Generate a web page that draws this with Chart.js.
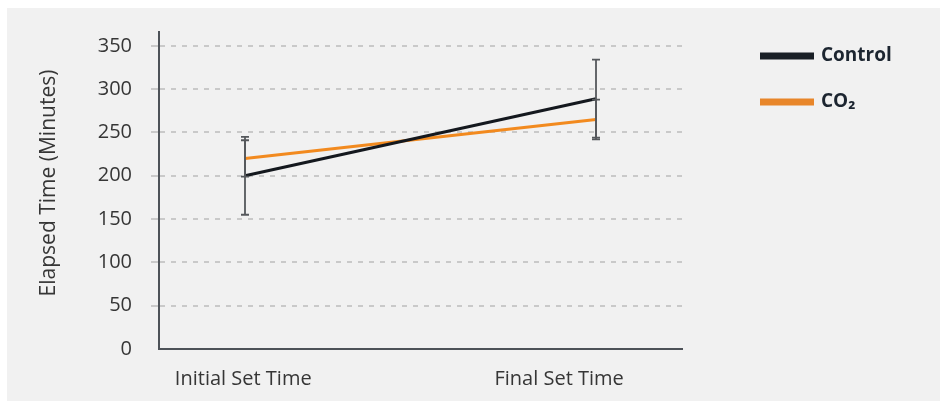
<!DOCTYPE html>
<html>
<head>
<meta charset="utf-8">
<script src="https://cdn.jsdelivr.net/npm/chart.js@4.4.1/dist/chart.umd.min.js"></script>
<style>
  html, body { margin: 0; padding: 0; background: #ffffff; }
  #wrap { width: 940px; height: 401px; }
</style>
</head>
<body>
<div id="wrap"><canvas id="chart" width="940" height="401"></canvas></div>
<script>
// Setting-time measurements (minutes), mean and error half-width per stage
const categories = ['Initial Set Time', 'Final Set Time'];
const seriesNames = ['Control', 'CO₂'];
const controlMean = [200, 289];
const controlErr = [45, 45];
const co2Mean = [220, 265];
const co2Err = [21, 23];
const yTicks = [0, 50, 100, 150, 200, 250, 300, 350];

const FONT = '"Open Sans", "Noto Sans", sans-serif';
const TEXT = '#363636';
const AXIS = '#4d5258';
const GRID = '#c9c9c9';
const COLORS = ['#14181e', '#f28a1f'];
const LEGEND_COLORS = ['#1a1f26', '#e8862a'];

const toPoints = arr => arr.map((v, i) => ({ x: i, y: v }));

// light panel behind the whole figure
const panel = {
  id: 'panel',
  beforeDraw(chart) {
    const { ctx, width, height } = chart;
    ctx.save();
    ctx.fillStyle = '#ffffff';
    ctx.fillRect(0, 0, width, height);
    ctx.fillStyle = '#f1f1f1';
    ctx.fillRect(7, 8, width - 7, height - 8);
    ctx.restore();
  }
};

// vertical error bars with short caps
const errorBars = {
  id: 'errorBars',
  afterDatasetsDraw(chart) {
    const { ctx, scales: { x, y } } = chart;
    ctx.save();
    ctx.strokeStyle = '#55585c';
    ctx.lineWidth = 1.8;
    chart.data.datasets.forEach(ds => {
      ds.data.forEach((p, i) => {
        const e = ds.errors[i];
        const px = x.getPixelForValue(p.x);
        const top = y.getPixelForValue(p.y + e);
        const bot = y.getPixelForValue(p.y - e);
        ctx.beginPath();
        ctx.moveTo(px, top); ctx.lineTo(px, bot);
        ctx.moveTo(px - 4, top); ctx.lineTo(px + 4, top);
        ctx.moveTo(px - 4, bot); ctx.lineTo(px + 4, bot);
        ctx.stroke();
      });
    });
    ctx.restore();
  }
};

// legend on the right and rotated axis title
const annotations = {
  id: 'annotations',
  afterDraw(chart) {
    const { ctx } = chart;
    ctx.save();
    chart.data.datasets.forEach((ds, i) => {
      const cy = 56 + i * 46;
      ctx.strokeStyle = LEGEND_COLORS[i];
      ctx.lineWidth = 7;
      ctx.beginPath();
      ctx.moveTo(760, cy); ctx.lineTo(814, cy);
      ctx.stroke();
      ctx.fillStyle = '#1c2530';
      ctx.font = 'bold 19px ' + FONT;
      ctx.textAlign = 'left';
      ctx.textBaseline = 'middle';
      ctx.fillText(ds.label, 821, cy);
    });
    ctx.translate(49.5, 183);
    ctx.rotate(-Math.PI / 2);
    ctx.fillStyle = TEXT;
    ctx.font = '21px ' + FONT;
    ctx.textAlign = 'center';
    ctx.textBaseline = 'middle';
    ctx.fillText('Elapsed Time (Minutes)', 0, 0);
    ctx.restore();
  }
};

new Chart(document.getElementById('chart'), {
  type: 'line',
  data: {
    datasets: [
      { label: seriesNames[0], data: toPoints(controlMean), errors: controlErr,
        borderColor: COLORS[0], backgroundColor: COLORS[0], borderWidth: 3 },
      { label: seriesNames[1], data: toPoints(co2Mean), errors: co2Err,
        borderColor: COLORS[1], backgroundColor: COLORS[1], borderWidth: 3 }
    ]
  },
  options: {
    responsive: false,
    animation: false,
    layout: { padding: { top: 32, right: 258, bottom: 0, left: 0 } },
    elements: { point: { radius: 0, hoverRadius: 0 }, line: { tension: 0 } },
    plugins: { legend: { display: false }, tooltip: { enabled: false } },
    scales: {
      x: {
        type: 'linear',
        min: -0.245,
        max: 1.245,
        // label anchors along the axis for the two stage names
        afterBuildTicks: s => { s.ticks = [{ value: -0.005 }, { value: 0.895 }]; },
        afterFit: s => { s.height = 52; },
        grid: { display: false, drawTicks: false },
        border: { display: true, color: AXIS, width: 2 },
        ticks: {
          autoSkip: false, maxRotation: 0, padding: 18,
          color: TEXT, font: { family: FONT, size: 20 },
          callback: (v, i) => categories[i]
        }
      },
      y: {
        min: 0,
        max: 366,
        afterBuildTicks: s => { s.ticks = yTicks.map(v => ({ value: v })); },
        afterFit: s => { s.width = 159; },
        grid: {
          color: c => (c.tick && c.tick.value === 0 ? 'rgba(0,0,0,0)' : GRID),
          tickColor: c => (c.tick && c.tick.value === 0 ? 'rgba(0,0,0,0)' : GRID),
          lineWidth: 2, tickWidth: 2, tickLength: 8, borderDash: [5, 6]
        },
        border: { display: true, color: AXIS, width: 2, dash: [5, 6] },
        ticks: { padding: 19, color: TEXT, font: { family: FONT, size: 20 } }
      }
    }
  },
  plugins: [panel, errorBars, annotations]
});
</script>
</body>
</html>
